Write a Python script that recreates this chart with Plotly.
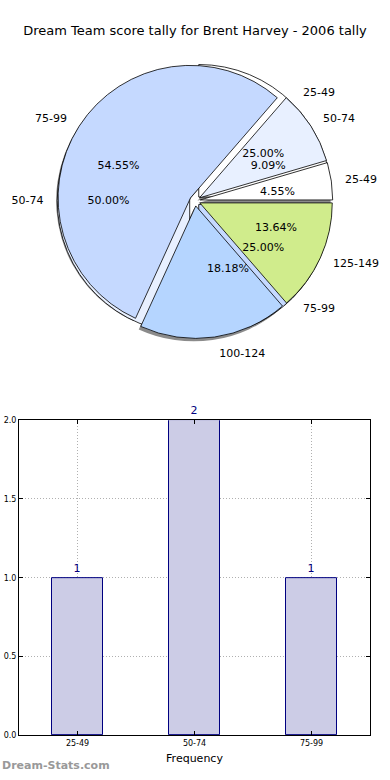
import plotly.graph_objects as go

# ---------------- data ----------------
score_labels = ["25-49", "50-74", "75-99", "100-124", "125-149"]
score_counts = [1, 2, 12, 4, 3]
score_colors = ["#ffffff", "#e8f0ff", "#c5d9ff", "#b5d5ff", "#d0ec8c"]

freq_labels = ["25-49", "50-74", "75-99"]
freq_counts = [1, 2, 1]
freq_colors = ["#ffffff", "#e8f0ff", "#c5d9ff"]

y_ticks = [0.0, 0.5, 1.0, 1.5, 2.0]

title_text = "Dream Team score tally for Brent Harvey - 2006 tally"

# ---------------- layout helpers ----------------
W, H = 390, 780
FONT = "DejaVu Sans"


def dom(cx, cy, half):
    return dict(x=[(cx - half) / W, (cx + half) / W],
                y=[1 - (cy + half) / H, 1 - (cy - half) / H])


CX, CY = 195, 199
R = 134
PULL = 0.04

fig = go.Figure()

# slices start at 3 o'clock and run counter-clockwise (matplotlib style):
# feed reversed lists to a clockwise pie starting at 3 o'clock
common = dict(sort=False, direction="clockwise", rotation=90,
              hoverinfo="skip", showlegend=False)

sl, sv, sc = score_labels[::-1], score_counts[::-1], score_colors[::-1]
fl, fv, fc = freq_labels[::-1], freq_counts[::-1], freq_colors[::-1]

# shadow of the score pie
fig.add_trace(go.Pie(labels=sl, values=sv,
                     marker=dict(colors=["rgba(90,90,90,0.7)"] * len(sv), line=dict(width=0)),
                     pull=[PULL] * len(sv), textinfo="none",
                     domain=dom(CX - 2, CY + 3, R * (1 + PULL)), **common))

# frequency pie (underneath)
fig.add_trace(go.Pie(labels=fl, values=fv,
                     marker=dict(colors=fc, line=dict(color="black", width=0.8)),
                     pull=[PULL] * len(fv), textinfo="none",
                     domain=dom(CX, CY, R * (1 + PULL)), **common))

# score pie (on top)
fig.add_trace(go.Pie(labels=sl, values=sv,
                     marker=dict(colors=sc, line=dict(color="black", width=0.8)),
                     pull=[PULL] * len(sv), textinfo="none",
                     domain=dom(CX, CY, R * (1 + PULL)), **common))

# percentage texts (transparent helper pies)
RS = 63
for labs, vals in ((sl, sv), (fl, fv)):
    fig.add_trace(go.Pie(labels=labs, values=vals,
                         marker=dict(colors=["rgba(0,0,0,0)"] * len(vals), line=dict(width=0)),
                         texttemplate="%{percent:.2%}", textposition="outside",
                         outsidetextfont=dict(family=FONT, size=11, color="black"),
                         domain=dom(CX, CY, RS), **common))

# outside category labels
RL = 150
for labs, vals in ((sl, sv), (fl, fv)):
    fig.add_trace(go.Pie(labels=labs, values=vals,
                         marker=dict(colors=["rgba(0,0,0,0)"] * len(vals), line=dict(width=0)),
                         textinfo="label", textposition="outside",
                         outsidetextfont=dict(family=FONT, size=11, color="black"),
                         domain=dom(CX, CY, RL), **common))

# ---------------- bar chart ----------------
fig.add_trace(go.Bar(x=freq_labels, y=freq_counts, width=0.44,
                     marker=dict(color="#cccce6", line=dict(color="#000080", width=1)),
                     text=[str(v) for v in freq_counts], textposition="outside",
                     textfont=dict(family=FONT, size=11, color="#000080"),
                     cliponaxis=False, hoverinfo="skip", showlegend=False))

axis_common = dict(showline=True, linecolor="black", linewidth=1, mirror="ticks",
                   ticks="inside", ticklen=4, tickcolor="black",
                   showgrid=True, gridcolor="#b0b0b0", griddash="1px,2px", gridwidth=1,
                   zeroline=False, tickfont=dict(family=FONT, size=8, color="black"))

fig.update_layout(
    width=W, height=H,
    margin=dict(l=0, r=0, t=0, b=0),
    paper_bgcolor="white", plot_bgcolor="white",
    font=dict(family=FONT, color="black"),
    title=dict(text=title_text, x=0.5, xanchor="center", y=1 - 30 / H, yanchor="middle",
               font=dict(family=FONT, size=13, color="black")),
    xaxis=dict(domain=[19 / W, 370 / W], anchor="y", range=[-0.5, 2.5],
               title=dict(text="Frequency", font=dict(family=FONT, size=11, color="black"), standoff=7),
               **axis_common),
    yaxis=dict(domain=[1 - 740 / H, 1 - 421 / H], anchor="x", range=[0, 2],
               tickvals=y_ticks, ticktext=[f"{v:.1f}" for v in y_ticks],
               **axis_common),
    bargap=0,
    annotations=[dict(text="<b>Dream-Stats.com</b>", x=0, y=1 - 770 / H, xref="paper", yref="paper",
                      xanchor="left", yanchor="middle", showarrow=False,
                      font=dict(family=FONT, size=11, color="#999999"))],
)

fig.write_html("out.html", config={"displayModeBar": False},
               post_script="document.body.style.margin='0';")
